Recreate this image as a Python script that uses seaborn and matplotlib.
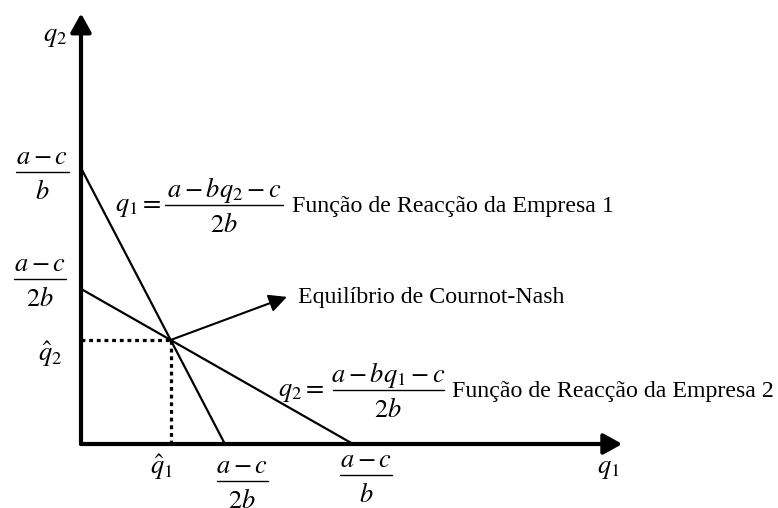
import numpy as np
import pandas as pd
import seaborn as sns
import matplotlib.pyplot as plt
from matplotlib.lines import Line2D

# intercepts / equilibrium (q1 unit = (a-c)/b on x, q2 unit = (a-c)/b on y)
q1_react1 = [0.0, 0.529]      # firm 1 reaction function: q1 values
q2_react1 = [1.0, 0.0]
q1_react2 = [0.0, 1.0]        # firm 2 reaction function
q2_react2 = [0.562, 0.0]
q1_hat = 0.33
q2_hat = 0.377
eq_arrow_tip = (0.757, 0.533)
x_max, y_max = 1.99, 1.56

W, H = 778, 508
sns.set_style("white")
plt.rcParams["font.family"] = ["Liberation Serif", "DejaVu Serif"]
plt.rcParams["mathtext.fontset"] = "stix"

fig = plt.figure(figsize=(W / 100, H / 100), dpi=100)
ax = fig.add_axes([0, 0, 1, 1])
ax.set_xlim(-81 / 272, (W - 81) / 272)
ax.set_ylim(-(H - 444) / 276, 444 / 276)
ax.axis("off")

# axes with arrowheads
ax.annotate("", xy=(x_max, 0), xytext=(0, 0),
            arrowprops=dict(arrowstyle="-|>,head_length=0.45,head_width=0.25", lw=3,
                            color="black", mutation_scale=25, shrinkA=0, shrinkB=0))
ax.annotate("", xy=(0, y_max), xytext=(0, 0),
            arrowprops=dict(arrowstyle="-|>,head_length=0.45,head_width=0.25", lw=3,
                            color="black", mutation_scale=25, shrinkA=0, shrinkB=0))

lines = pd.DataFrame({"q1": q1_react1 + q1_react2, "q2": q2_react1 + q2_react2,
                      "firm": ["1", "1", "2", "2"]})
sns.lineplot(data=lines, x="q1", y="q2", units="firm", estimator=None,
             color="black", lw=1.6, ax=ax, legend=False)

# dotted guides to the equilibrium
ax.plot([0, q1_hat], [q2_hat, q2_hat], color="black", lw=2.3, ls=(0, (1.2, 1.2)))
ax.plot([q1_hat, q1_hat], [0, q2_hat], color="black", lw=2.3, ls=(0, (1.2, 1.2)))

ax.annotate("", xy=eq_arrow_tip, xytext=(q1_hat, q2_hat),
            arrowprops=dict(arrowstyle="-|>,head_length=0.6,head_width=0.3", lw=1.5,
                            color="black", mutation_scale=18, shrinkA=0, shrinkB=0))

MATH = 19
TXT = 17.2


def label(px, py, s, ha="center", va="center", size=MATH):
    fig.text(px / W, 1 - py / H, s, ha=ha, va=va, fontsize=size, color="black")


def frac(cx, bar_y, num, den, width):
    # numerator / bar / denominator, spaced like the original word-processor fractions
    label(cx, bar_y - 8, num, va="baseline")
    label(cx, bar_y + 27, den, va="baseline")
    fig.add_artist(Line2D([(cx - width / 2) / W, (cx + width / 2) / W],
                          [1 - bar_y / H] * 2, lw=1.0, color="black"))


label(55, 38, r"$q_2$")
label(608, 470, r"$q_1$")
label(50, 354, r"$\hat{q}_2$")
label(162, 467, r"$\hat{q}_1$")

frac(42, 172, r"$a-c$", r"$b$", 53)
frac(40, 279, r"$a-c$", r"$2b$", 52)
frac(242, 481, r"$a-c$", r"$2b$", 51)
frac(366, 475, r"$a-c$", r"$b$", 52)

label(115, 211, r"$q_1=$", ha="left", va="baseline")
frac(224, 205, r"$a-bq_2-c$", r"$2b$", 118)
label(292, 212, "Função de Reacção da Empresa 1", ha="left", va="baseline", size=TXT)

label(278, 396, r"$q_2=$", ha="left", va="baseline")
frac(388, 390, r"$a-bq_1-c$", r"$2b$", 111)
label(452, 397, "Função de Reacção da Empresa 2", ha="left", va="baseline", size=TXT)

label(298, 303, "Equilíbrio de Cournot-Nash", ha="left", va="baseline", size=TXT)

fig.savefig("out.png", dpi=100)
